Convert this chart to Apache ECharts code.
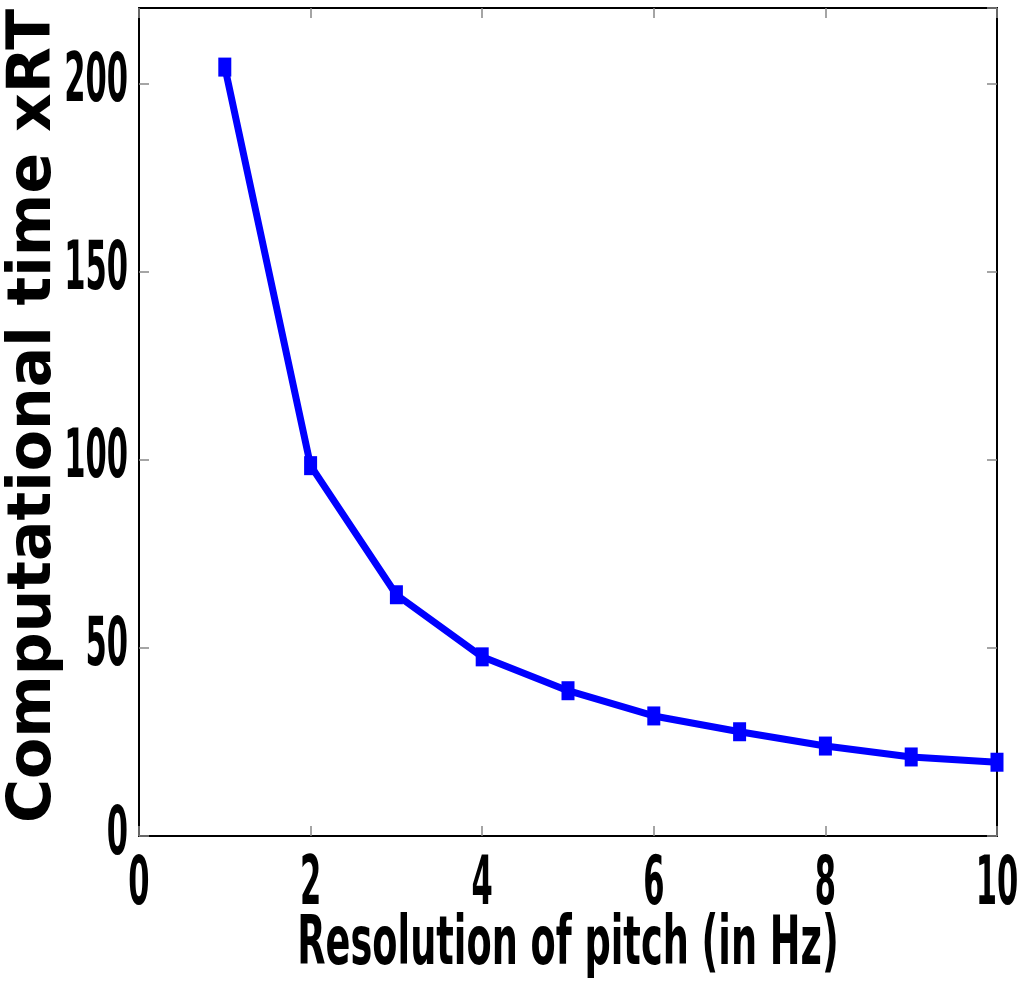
<!DOCTYPE html>
<html>
<head>
<meta charset="utf-8">
<script src="https://cdn.jsdelivr.net/npm/echarts@6/dist/echarts.min.js"></script>
<style>html,body{margin:0;padding:0;background:#fff}#c{width:1024px;height:986px}</style>
</head>
<body>
<div id="c"></div>
<script>
const resolutionHz = [1, 2, 3, 4, 5, 6, 7, 8, 9, 10];
const computeTimeXRT = [204.3, 98.4, 64.1, 47.6, 38.6, 31.9, 27.7, 23.9, 21.0, 19.6];
const xTicks = ['0', '2', '4', '6', '8', '10'];
const yTicks = ['0', '50', '100', '150', '200'];
const xTitle = 'Resolution of pitch (in Hz)';
const yTitle = 'Computational time xRT';

const narrow = "'Liberation Sans Narrow', 'DejaVu Sans Condensed', 'Liberation Sans', sans-serif";
const chart = echarts.init(document.getElementById('c'));
const tickStyle = { show: true, inside: true, length: 10, lineStyle: { color: '#888', width: 1.5 } };
const lineStyle = { show: true, onZero: false, lineStyle: { color: '#000', width: 2 } };
chart.setOption({
  animation: false,
  backgroundColor: '#fff',
  grid: { left: 139, right: 27, top: 8, bottom: 150, containLabel: false, outerBoundsMode: 'none' },
  xAxis: [{
    type: 'value', min: 0, max: 10, interval: 2, position: 'bottom',
    axisLine: lineStyle, axisTick: tickStyle, splitLine: { show: false },
    axisLabel: { fontFamily: narrow, fontWeight: 'bold', fontSize: 68, color: '#000', margin: 16 },
    name: xTitle, nameLocation: 'middle', nameGap: 76, nameMoveOverlap: false,
    nameTextStyle: { fontFamily: narrow, fontWeight: 'bold', fontSize: 68, color: '#000', verticalAlign: 'top' }
  }, {
    type: 'value', min: 0, max: 10, interval: 2, position: 'top',
    axisLine: lineStyle, axisTick: tickStyle, axisLabel: { show: false }, splitLine: { show: false }
  }],
  yAxis: [{
    type: 'value', min: 0, max: 220, interval: 50, position: 'left',
    axisLine: lineStyle, axisTick: tickStyle, splitLine: { show: false },
    axisLabel: { fontFamily: narrow, fontWeight: 'bold', fontSize: 68, color: '#000', margin: 11, showMaxLabel: false },
    name: yTitle, nameLocation: 'middle', nameGap: 75, nameRotate: 90, nameMoveOverlap: false,
    nameTextStyle: { fontFamily: "'DejaVu Sans', sans-serif", fontWeight: 'bold', fontSize: 60, color: '#000', padding: [0, 0, 0, 12] }
  }, {
    type: 'value', min: 0, max: 220, interval: 50, position: 'right',
    axisLine: lineStyle, axisTick: tickStyle, axisLabel: { show: false }, splitLine: { show: false }
  }],
  series: [{
    type: 'line',
    data: resolutionHz.map((x, i) => [x, computeTimeXRT[i]]),
    symbol: 'rect', symbolSize: [13, 19], showSymbol: true,
    lineStyle: { color: '#0000ff', width: 7 },
    itemStyle: { color: '#0000ff' },
    clip: false
  }]
});

// Condense the tick labels and x-axis title horizontally, as in the reference.
try {
  const zr = chart.getZr();
  const tickSet = new Set(xTicks.concat(yTicks));
  zr.storage.getRoots().forEach(function (root) {
    root.traverse(function (el) {
      if (el.type === 'text' && el.style && typeof el.style.text === 'string') {
        if (tickSet.has(el.style.text)) {
          el.scaleX = 0.5;
          el.markRedraw();
        } else if (el.style.text === xTitle) {
          el.scaleX = 0.6;
          el.markRedraw();
        }
      }
    });
  });
  zr.refreshImmediately();
} catch (e) { console.error(e); }
</script>
</body>
</html>
